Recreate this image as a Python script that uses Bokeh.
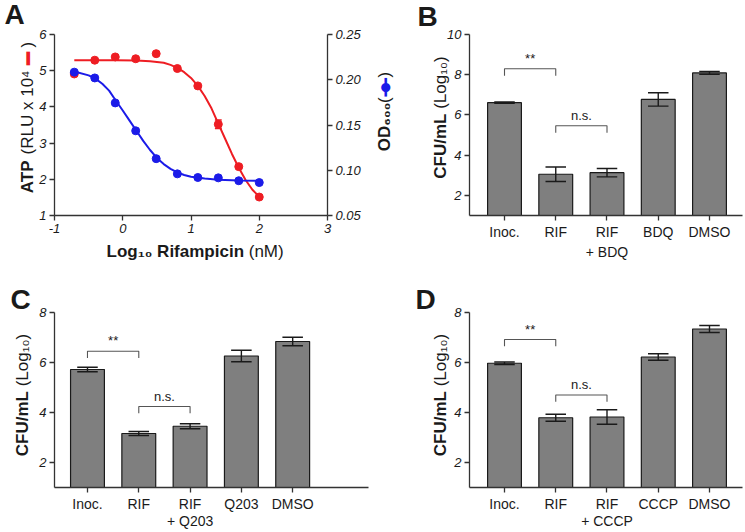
import math
from bokeh.plotting import figure
from bokeh.models import Range1d, LinearAxis, FixedTicker, Label, PrintfTickFormatter, GridBox
from bokeh.layouts import row, column
from bokeh.embed import file_html
from bokeh.resources import INLINE

FONT = "Liberation Sans"
SYM_FONT = "DejaVu Sans"
INK = "#1a1a1a"
AXIS = "#333333"
RED = "#ee1d23"
BLUE = "#1b1be8"
BAR_FILL = "#7f7f7f"
BRACKET = "#555555"

# ---------------- Panel A data ----------------
log_rif = [-0.71, -0.41, -0.11, 0.19, 0.49, 0.80, 1.10, 1.40, 1.70, 2.00]
atp_rlu = [4.91, 5.29, 5.38, 5.33, 5.47, 5.06, 4.58, 3.52, 2.35, 1.51]
atp_sem = [0.0, 0.0, 0.0, 0.0, 0.0, 0.0, 0.0, 0.12, 0.0, 0.0]
od600 = [0.2084, 0.2020, 0.1744, 0.1436, 0.1128, 0.0960, 0.0920, 0.0916, 0.0884, 0.0864]

atp_fit_x = [-0.71, -0.4, -0.1, 0.2, 0.4, 0.6, 0.7, 0.8, 0.9, 1.0, 1.1, 1.2, 1.3, 1.4, 1.5, 1.6, 1.7, 1.8, 1.9, 2.0]
atp_fit_y = [5.29, 5.29, 5.29, 5.28, 5.26, 5.22, 5.16, 5.08, 4.96, 4.80, 4.58, 4.30, 3.96, 3.54, 3.12, 2.70, 2.32, 1.98, 1.71, 1.52]
od_fit_x = [-0.71, -0.5, -0.4, -0.3, -0.2, -0.1, 0.0, 0.1, 0.2, 0.3, 0.4, 0.5, 0.6, 0.7, 0.8, 0.9, 1.0, 1.2, 1.4, 1.7, 2.0]
od_fit_y = [0.2092, 0.2048, 0.2012, 0.1956, 0.1880, 0.1768, 0.1660, 0.1548, 0.1436, 0.1324, 0.1224,
            0.1136, 0.1068, 0.1016, 0.0976, 0.0948, 0.0928, 0.0908, 0.0896, 0.0888, 0.0884]

a_x_ticks = [-1, 0, 1, 2, 3]
a_y_ticks = [1, 2, 3, 4, 5, 6]
a_od_ticks = [0.05, 0.10, 0.15, 0.20, 0.25]

# ---------------- Bar panels data ----------------
cats_b = ["Inoc.", "RIF", "RIF\n+ BDQ", "BDQ", "DMSO"]
cfu_b = [6.61, 3.05, 3.13, 6.77, 8.09]
sem_b = [0.03, 0.36, 0.21, 0.33, 0.07]

cats_c = ["Inoc.", "RIF", "RIF\n+ Q203", "Q203", "DMSO"]
cfu_c = [5.72, 3.16, 3.45, 6.26, 6.84]
sem_c = [0.09, 0.08, 0.10, 0.23, 0.17]

cats_d = ["Inoc.", "RIF", "RIF\n+ CCCP", "CCCP", "DMSO"]
cfu_d = [5.97, 3.79, 3.82, 6.22, 7.34]
sem_d = [0.05, 0.14, 0.29, 0.13, 0.14]

sig_labels = ["**", "n.s."]
sig_pairs = [(0, 1), (1, 2)]
sig_y_b = [8.30, 5.46]
sig_y_c = [6.45, 4.24]
sig_y_d = [6.92, 4.70]

b_y_ticks = [2, 4, 6, 8, 10]
cd_y_ticks = [2, 4, 6, 8]

# ---------------- helpers ----------------
REG = {' ': 278, '(': 333, ')': 333, 'R': 722, 'L': 556, 'U': 722, 'x': 500, '0': 556, '1': 556,
       'o': 556, 'g': 556, 'n': 556, 'M': 833, 'm': 833, '/': 278, 'C': 722, 'F': 611, 'D': 722, 'O': 778}
BLD = {' ': 278, 'A': 722, 'T': 611, 'P': 667, 'C': 722, 'F': 611, 'U': 722, '/': 278, 'm': 889,
       'L': 611, 'o': 611, 'g': 611, 'R': 722, 'i': 278, 'f': 333, 'a': 556, 'p': 611, 'c': 556,
       'n': 611, 'O': 778, 'D': 722}


def tw(s, size, bold=False):
    t = BLD if bold else REG
    return sum(t.get(ch, 350) for ch in s) * size / 1000.0


def add_text(p, text, x, y, size, bold=False, color=INK, align="left", baseline="middle",
             angle=0.0, font=FONT, y_offset=0):
    p.add_layout(Label(x=x, y=y, x_units="data", y_units="data", text=text, text_font=font,
                       text_font_size=f"{size}px", text_font_style="bold" if bold else "normal",
                       text_color=color, text_align=align, text_baseline=baseline, angle=angle,
                       y_offset=y_offset))


def make_fig(w, h, bl, br, bt, bb, xr, yr):
    p = figure(width=w, height=h, x_range=xr, y_range=yr, output_backend="svg",
               toolbar_location=None, min_border_left=bl, min_border_right=br,
               min_border_top=bt, min_border_bottom=bb, background_fill_color="white",
               border_fill_color="white", outline_line_color=None)
    p.grid.visible = False
    return p


def style_axis(ax, size=13, italic=True, line_h=1.2):
    ax.axis_line_color = AXIS
    ax.axis_line_width = 1.3
    ax.major_tick_line_color = AXIS
    ax.major_tick_line_width = 1.3
    ax.major_tick_out = 5
    ax.major_tick_in = 0
    ax.minor_tick_line_color = None
    ax.major_label_text_font = FONT
    ax.major_label_text_font_size = f"{size}px"
    ax.major_label_text_font_style = "italic" if italic else "normal"
    ax.major_label_text_color = INK
    ax.major_label_text_line_height = line_h
    ax.major_label_standoff = 3


TITLE = 17
SPACE = tw(" ", TITLE)
PAGE_W, PAGE_H = 745, 532

# transparent overlay figure whose data coordinates are page pixels (texts outside the frames)
ov = figure(width=PAGE_W, height=PAGE_H, x_range=Range1d(0, PAGE_W), y_range=Range1d(PAGE_H, 0),
            output_backend="svg", toolbar_location=None, x_axis_type=None, y_axis_type=None,
            min_border=0, outline_line_color=None, background_fill_alpha=0, border_fill_alpha=0)


def rotated_title(pieces, center_x, center_y):
    """pieces read bottom-to-top; each has its width 'w' and the gap before it"""
    total = sum(pc["w"] + pc.get("gap", 0) for pc in pieces)
    pos = center_y + total / 2.0
    for pc in pieces:
        pos -= pc.get("gap", 0)
        if pc.get("sym"):
            for txt, sz in pc["sym"]:
                add_text(ov, txt, center_x + 0.5, pos - pc["w"] / 2.0, sz, color=pc["color"],
                         align="center", angle=math.pi / 2, font=SYM_FONT)
        else:
            add_text(ov, pc["t"], center_x, pos, TITLE, bold=pc.get("b", False), align="left",
                     angle=math.pi / 2)
        pos -= pc["w"]


# ---------------- Panel A ----------------
pA = make_fig(400, 266, 54, 73, 33, 51, Range1d(-1, 3), Range1d(1, 6))
pA.extra_y_ranges = {"od": Range1d(0.05, 0.25)}
style_axis(pA.xaxis[0])
style_axis(pA.yaxis[0])
pA.xaxis[0].ticker = FixedTicker(ticks=a_x_ticks)
pA.xaxis[0].formatter = PrintfTickFormatter(format="%d")
pA.yaxis[0].ticker = FixedTicker(ticks=a_y_ticks)
pA.yaxis[0].formatter = PrintfTickFormatter(format="%d")
od_axis = LinearAxis(y_range_name="od", ticker=FixedTicker(ticks=a_od_ticks),
                     formatter=PrintfTickFormatter(format="%.2f"))
style_axis(od_axis)
pA.add_layout(od_axis, "right")

pA.line(atp_fit_x, atp_fit_y, line_color=RED, line_width=2)
ex = [x for x, s in zip(log_rif, atp_sem) if s > 0]
elo = [v - s for v, s in zip(atp_rlu, atp_sem) if s > 0]
ehi = [v + s for v, s in zip(atp_rlu, atp_sem) if s > 0]
pA.segment(ex, elo, ex, ehi, line_color=RED, line_width=1.5)
pA.segment([x - 0.05 for x in ex], ehi, [x + 0.05 for x in ex], ehi, line_color=RED, line_width=1.5)
pA.segment([x - 0.05 for x in ex], elo, [x + 0.05 for x in ex], elo, line_color=RED, line_width=1.5)
pA.scatter(log_rif, atp_rlu, size=8, fill_color=RED, line_color=RED)
pA.line(od_fit_x, od_fit_y, line_color=BLUE, line_width=2, y_range_name="od")
pA.scatter(log_rif, od600, size=8, fill_color=BLUE, line_color=BLUE, y_range_name="od")

# panel A texts (page coordinates, text centres)
add_text(ov, "A", 4, 14, 28, bold=True)
xb = "Log\u2081\u2080 Rifampicin"
xr_ = "(nM)"
wb, wr = tw(xb, TITLE, True), tw(xr_, TITLE)
start = 196 - (wb + SPACE + wr) / 2.0
add_text(ov, xb, start + wb, 251, TITLE, bold=True, align="right")
add_text(ov, xr_, start + wb + SPACE, 251, TITLE, align="left")
rotated_title([
    {"t": "ATP", "b": True, "w": tw("ATP", TITLE, True)},
    {"t": "(RLU x 10\u2074", "w": tw("(RLU x 10\u2074", TITLE), "gap": SPACE},
    {"sym": [("\u2501", 22)], "color": RED, "w": 13, "gap": SPACE + 2},
    {"t": ")", "w": tw(")", TITLE), "gap": SPACE},
], 27, 117)
rotated_title([
    {"t": "OD\u2086\u2080\u2080", "b": True, "w": tw("OD\u2086\u2080\u2080", TITLE, True)},
    {"t": "(", "w": tw("(", TITLE), "gap": SPACE},
    {"sym": [("\u2500", 30), ("\u25cf", 12)], "color": BLUE, "w": 18, "gap": 1},
    {"t": ")", "w": tw(")", TITLE), "gap": 1},
], 384, 111)


# ---------------- Bar panels ----------------
def bar_panel(w, h, bl, br, bt, bb, x_start, x_end, y_max, y_ticks, labels, vals, sems, sig_y,
              letter, origin, letter_pg, title_x, line_h):
    n = len(vals)
    idx = list(range(n))
    p = make_fig(w, h, bl, br, bt, bb, Range1d(x_start, x_end), Range1d(1, y_max))
    style_axis(p.yaxis[0])
    p.yaxis[0].ticker = FixedTicker(ticks=y_ticks)
    p.yaxis[0].formatter = PrintfTickFormatter(format="%d")
    style_axis(p.xaxis[0], size=14, italic=False, line_h=line_h)
    p.xaxis[0].ticker = FixedTicker(ticks=idx)
    p.xaxis[0].major_label_overrides = {i: lab for i, lab in zip(idx, labels)}

    p.vbar(x=idx, top=vals, bottom=1, width=0.66, fill_color=BAR_FILL, line_color=INK,
           line_width=1.2)
    lo = [v - s for v, s in zip(vals, sems)]
    hi = [v + s for v, s in zip(vals, sems)]
    p.segment(idx, lo, idx, hi, line_color=INK, line_width=1.4)
    p.segment([i - 0.2 for i in idx], hi, [i + 0.2 for i in idx], hi, line_color=INK, line_width=1.4)
    p.segment([i - 0.2 for i in idx], lo, [i + 0.2 for i in idx], lo, line_color=INK, line_width=1.4)

    frame_h = h - bt - bb
    leg = 7.0 * (y_max - 1) / frame_h
    for (a, b), yb, txt in zip(sig_pairs, sig_y, sig_labels):
        p.multi_line(xs=[[a, a, b, b]], ys=[[yb - leg, yb, yb, yb - leg]], line_color=BRACKET,
                     line_width=1.1)
        add_text(p, txt, (a + b) / 2.0, yb, 13, align="center", baseline="bottom", y_offset=3)

    add_text(ov, letter, letter_pg[0], letter_pg[1], 28, bold=True)
    frame_mid = origin[1] + bt + frame_h / 2.0
    rotated_title([
        {"t": "CFU/mL", "b": True, "w": tw("CFU/mL", TITLE, True)},
        {"t": "(Log\u2081\u2080)", "w": tw("(Log\u2081\u2080)", TITLE), "gap": SPACE},
    ], title_x, frame_mid - 7)
    return p


pB = bar_panel(345, 266, 69, 3, 34, 51, -0.683, 4.644, 10, b_y_ticks, cats_b, cfu_b, sem_b,
               sig_y_b, "B", (400, 0), (417, 16), 440, 1.25)
pC = bar_panel(400, 266, 54, 32, 46, 40, -0.643, 5.478, 8, cd_y_ticks, cats_c, cfu_c, sem_c,
               sig_y_c, "C", (0, 266), (10, 298.5), 22, 1.1)
pD = bar_panel(345, 266, 69, 3, 46, 40, -0.683, 4.644, 8, cd_y_ticks, cats_d, cfu_d, sem_d,
               sig_y_d, "D", (400, 266), (415, 298.5), 440, 1.1)

base = column(row(pA, pB), row(pC, pD))
layout = GridBox(children=[(base, 0, 0), (ov, 0, 0)], spacing=0)
open("out.html", "w").write(file_html(layout, INLINE))
